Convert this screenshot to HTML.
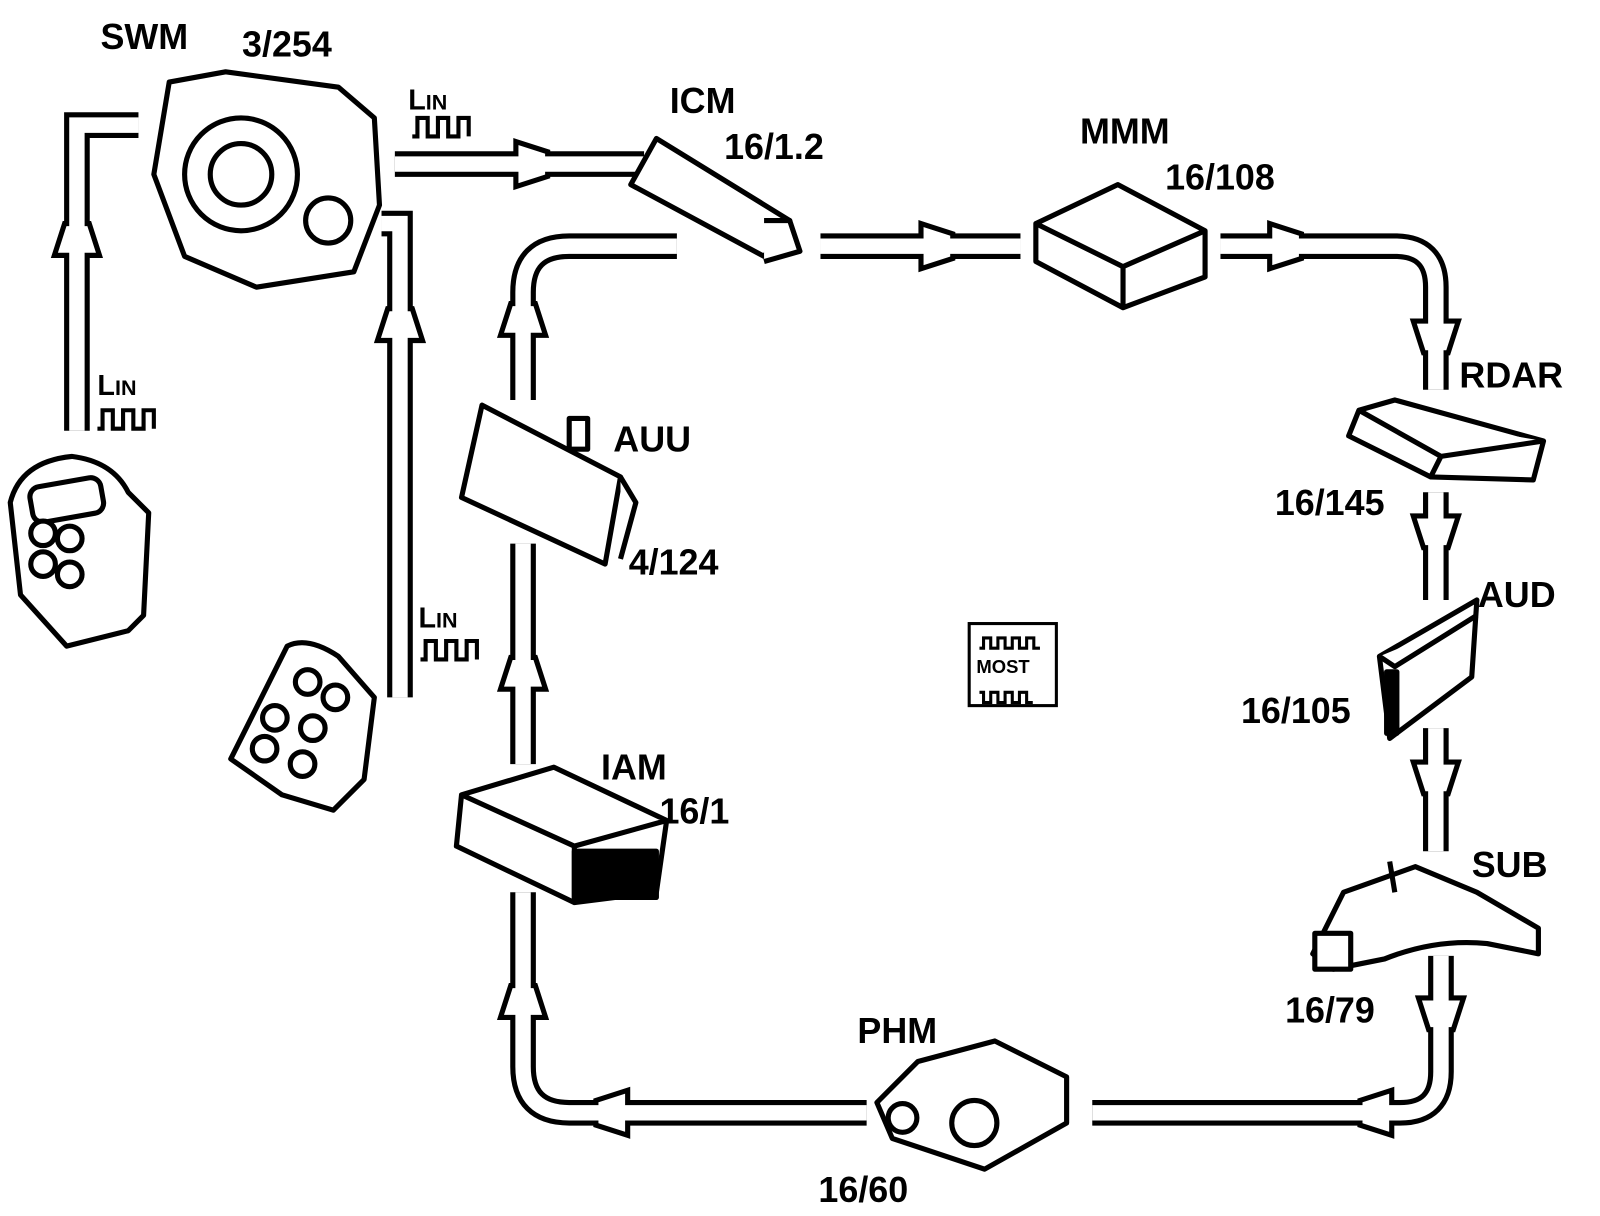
<!DOCTYPE html>
<html><head><meta charset="utf-8"><style>
html,body{margin:0;padding:0;background:#fff}
svg{display:block}
text{font-family:"Liberation Sans",sans-serif;font-size:35px;fill:#000;font-weight:bold}
</style></head><body>
<svg width="1600" height="1216" viewBox="0 0 1600 1216" xmlns="http://www.w3.org/2000/svg">
<defs>
<g id="ah"><polygon points="-27,-22 4,-12 4,12 -27,22" fill="#fff" stroke="#000" stroke-width="5" stroke-linejoin="miter"/></g>
</defs>
<g transform="scale(1.0256)">
<g fill="none" stroke="#000" stroke-width="25" stroke-linejoin="miter">
<path id="b1" d="M75,420 V122 H135"/>
<path id="b2" d="M372,218 H390 V680"/>
<path id="b3" d="M385,160 H628"/>
<path id="b4" d="M800,240 H995"/>
<path id="b5" d="M1190,240 H1360 Q1400,240 1400,280 V380"/>
<path id="b6" d="M1400,480 V585"/>
<path id="b7" d="M1400,710 V830"/>
<path id="b8" d="M1405,932 V1045 Q1405,1085 1365,1085 H1065"/>
<path id="b9" d="M845,1085 H555 Q510,1085 510,1040 V870"/>
<path id="b10" d="M510,745 V530"/>
<path id="b11" d="M510,390 V285 Q510,240 555,240 H660"/>
</g>
<use href="#ah" transform="translate(75,222) rotate(-90)"/>
<use href="#ah" transform="translate(390,305) rotate(-90)"/>
<use href="#ah" transform="translate(530,160)"/>
<use href="#ah" transform="translate(925,240)"/>
<use href="#ah" transform="translate(1265,240)"/>
<use href="#ah" transform="translate(1400,340) rotate(90)"/>
<use href="#ah" transform="translate(1400,530) rotate(90)"/>
<use href="#ah" transform="translate(1400,770) rotate(90)"/>
<use href="#ah" transform="translate(1405,1000) rotate(90)"/>
<use href="#ah" transform="translate(1330,1085) rotate(180)"/>
<use href="#ah" transform="translate(585,1085) rotate(180)"/>
<use href="#ah" transform="translate(510,965) rotate(-90)"/>
<use href="#ah" transform="translate(510,645) rotate(-90)"/>
<use href="#ah" transform="translate(510,300) rotate(-90)"/>
<g fill="none" stroke="#fff" stroke-width="15" stroke-linejoin="miter">
<use href="#b1"/><use href="#b2"/><use href="#b3"/><use href="#b4"/><use href="#b5"/><use href="#b6"/>
<use href="#b7"/><use href="#b8"/><use href="#b9"/><use href="#b10"/><use href="#b11"/>
</g>
<text x="95" y="385" style="font-size:28px">L<tspan style="font-size:21px">IN</tspan></text>
<text x="398" y="107" style="font-size:28px">L<tspan style="font-size:21px">IN</tspan></text>
<text x="408" y="612" style="font-size:28px">L<tspan style="font-size:21px">IN</tspan></text>
<g fill="none" stroke="#000" stroke-width="4">
<path d="M95,418 h5 v-18 h10 v18 h10 v-18 h10 v18 h10 v-18 h10 v18"/>
<path d="M402,133 h5 v-18 h10 v18 h10 v-18 h10 v18 h10 v-18 h10 v18"/>
<path d="M410,643 h5 v-18 h10 v18 h10 v-18 h10 v18 h10 v-18 h10 v18"/>
</g>
<rect x="945" y="608" width="85" height="80" fill="#fff" stroke="#000" stroke-width="3"/>
<path d="M955,632 h4 v-10 h7 v10 h7 v-10 h7 v10 h7 v-10 h7 v10 h7 v-10 h7 v10 h6 M955,675 h4 v10 h7 v-10 h7 v10 h7 v-10 h7 v10 h7 v-10 h7 v10 h6" fill="none" stroke="#000" stroke-width="3"/>
<text x="952" y="656" style="font-size:18px">MOST</text>
<g fill="#fff" stroke="#000" stroke-width="5" stroke-linejoin="round">
<path d="M165,80 L220,70 L330,85 L365,115 L370,200 L345,265 L250,280 L180,250 L150,170 Z"/>
<circle cx="235" cy="170" r="55"/><circle cx="235" cy="170" r="30"/>
<circle cx="320" cy="215" r="22"/>
<path d="M10,490 Q20,450 70,445 Q110,450 125,480 L145,500 L140,600 L125,615 L65,630 L20,580 Z"/>
<rect x="30" y="470" width="70" height="35" rx="10" transform="rotate(-10 65 487)"/>
<circle cx="42" cy="520" r="12"/><circle cx="68" cy="525" r="12"/><circle cx="42" cy="550" r="12"/><circle cx="68" cy="560" r="12"/>
<path d="M225,740 L280,630 Q300,620 330,640 L365,680 L355,760 L325,790 L275,775 Z"/>
<circle cx="300" cy="665" r="12"/><circle cx="327" cy="680" r="12"/><circle cx="268" cy="700" r="12"/><circle cx="305" cy="710" r="12"/><circle cx="258" cy="730" r="12"/><circle cx="295" cy="745" r="12"/>
<path d="M640,135 L770,215 L745,250 L615,180 Z"/>
<path d="M745,215 L770,215 L780,245 L745,255"/>
<path d="M1010,218 L1090,180 L1175,225 L1175,270 L1095,300 L1010,255 Z"/>
<path d="M1010,218 L1095,260 L1175,225 M1095,260 V300"/>
<path d="M470,395 L605,465 L590,550 L450,485 Z"/>
<path d="M605,465 L620,490 L605,545"/><rect x="555" y="408" width="18" height="30"/>
<path d="M450,775 L540,748 L650,800 L640,870 L560,880 L445,825 Z"/>
<path d="M450,775 L560,825 L650,800 M560,825 L560,880"/>
<rect x="560" y="830" width="80" height="45" fill="#000"/>
<path d="M1325,400 L1360,390 L1505,430 L1495,468 L1395,465 L1315,425 Z"/>
<path d="M1325,400 L1405,445 L1505,430 M1405,445 L1395,465"/>
<path d="M1345,640 L1440,585 L1435,660 L1355,720 Z"/>
<path d="M1345,640 L1360,650 L1440,600"/>
<rect x="1352" y="655" width="10" height="60" fill="#000"/>
<path d="M1310,870 L1380,845 L1440,870 L1500,905 L1500,930 L1450,920 Q1400,915 1350,935 L1300,945 L1280,930 Z"/>
<rect x="1282" y="910" width="35" height="35"/>
<path d="M1355,840 L1360,870"/>
<path d="M855,1075 L895,1035 L970,1015 L1040,1050 L1040,1095 L960,1140 L870,1110 Z"/>
<circle cx="950" cy="1095" r="22"/><circle cx="880" cy="1090" r="14"/>
</g>
<text x="98" y="48">SWM</text>
<text x="236" y="55">3/254</text>
<text x="653" y="110">ICM</text>
<text x="706" y="155">16/1.2</text>
<text x="1053" y="140">MMM</text>
<text x="1136" y="185">16/108</text>
<text x="1423" y="378">RDAR</text>
<text x="1243" y="502">16/145</text>
<text x="1441" y="592">AUD</text>
<text x="1210" y="705">16/105</text>
<text x="1435" y="855">SUB</text>
<text x="1253" y="997">16/79</text>
<text x="836" y="1017">PHM</text>
<text x="798" y="1172">16/60</text>
<text x="586" y="760">IAM</text>
<text x="643" y="803">16/1</text>
<text x="598" y="440">AUU</text>
<text x="613" y="560">4/124</text>
</g>
</svg>
</body></html>
